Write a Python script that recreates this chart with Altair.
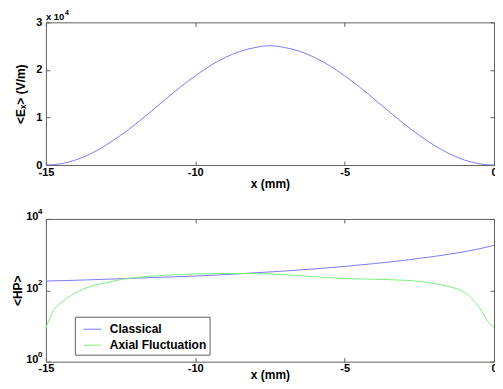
import altair as alt
import pandas as pd

# ---------------- data ----------------
ex_x = [-15, -14.5, -14, -13.5, -13, -12.5, -12, -11.5, -11, -10.5, -10, -9.5, -9, -8.5, -8,
        -7.5, -7, -6.5, -6, -5.5, -5, -4.5, -4, -3.5, -3, -2.5, -2, -1.5, -1, -0.5, 0]
ex_v = [0, 270, 1080, 2390, 4140, 6250, 8600, 11200, 13800, 16400, 18750, 20900, 22600, 23900, 24700,
        25100, 24700, 23900, 22600, 20900, 18750, 16400, 13800, 11200, 8600, 6250, 4140, 2390, 1080, 270, 0]

hp_x_classical = [-15, -14, -13, -12, -11, -10, -9, -8, -7, -6, -5, -4, -3, -2, -1, -0.5, 0]
hp_classical = [182, 191, 204, 219, 234, 251, 275, 309, 347, 398, 468, 562, 692, 891, 1202, 1445, 1820]

hp_x_axial = [-15, -14.85, -14.7, -14.5, -14.3, -14, -13.5, -13, -12.5, -12, -11, -10, -9, -8, -7,
              -6, -5, -4, -3, -2.5, -2, -1.5, -1, -0.7, -0.4, -0.2, 0]
hp_axial = [8.9, 18.2, 30.9, 44.7, 60.3, 85.1, 129, 162, 200, 229, 263, 288, 295, 295, 275,
            240, 214, 204, 191, 178, 155, 126, 89, 54, 25, 13.2, 9.3]

series_names = ["Classical", "Axial Fluctuation"]
series_colors = ["#7b7bff", "#7cf07c"]

x_ticks = [-15, -10, -5, 0]
ex_ticks = [0, 10000, 20000, 30000]
hp_ticks = [1, 100, 10000]
hp_sup = ["0", "2", "4"]
ex_mult = "x 10"
ex_mult_sup = "4"

x_title = "x (mm)"
ex_title = "<Eₓ> (V/m)"
hp_title = "<HP>"

FONT = "Liberation Sans"
FRAME = "#606060"
W, H = 449, 143

# ---------------- tables ----------------
df_e = pd.DataFrame({"x": ex_x, "v": ex_v})
df_hp = pd.concat([
    pd.DataFrame({"x": hp_x_classical, "v": hp_classical, "series": series_names[0], "o": 0}),
    pd.DataFrame({"x": hp_x_axial, "v": hp_axial, "series": series_names[1], "o": 1}),
])
df_mult = pd.DataFrame({"x": [x_ticks[0]], "v": [ex_ticks[-1]], "t": [ex_mult], "s": [ex_mult_sup]})
df_sup = pd.DataFrame({"x": [x_ticks[0]] * 3, "v": hp_ticks, "s": hp_sup})

x_scale = alt.Scale(domain=[-15, 0], nice=False, zero=False)
e_scale = alt.Scale(domain=[0, 30000], nice=False, zero=False)
hp_scale = alt.Scale(type="log", domain=[1, 10000], nice=False)

num_expr = "'' + datum.value"


def x_axis_main(label_pad, title_pad):
    return alt.Axis(orient="bottom", values=x_ticks, labelExpr=num_expr, offset=-4, tickSize=4,
                    domain=False, labelPadding=label_pad, title=x_title, titlePadding=title_pad,
                    labelFlush=False)


def mirror_axis(orient, values):
    return alt.Axis(orient=orient, values=values, offset=-4, tickSize=4, domain=False,
                    labels=False, title=None)


# ---------------- top panel ----------------
top_line = alt.Chart(df_e).mark_line(color=series_colors[0], strokeWidth=1, interpolate="monotone").encode(
    x=alt.X("x:Q", scale=x_scale, axis=x_axis_main(1, 1)),
    y=alt.Y("v:Q", scale=e_scale,
            axis=alt.Axis(orient="left", values=ex_ticks, labelExpr="'' + (datum.value / 10000)",
                          offset=-4, tickSize=4, domain=False, labelPadding=4,
                          title=ex_title, titlePadding=8)),
)
top_mirror = alt.Chart(df_e).mark_line(opacity=0).encode(
    x=alt.X("x:Q", scale=x_scale, axis=mirror_axis("top", x_ticks)),
    y=alt.Y("v:Q", scale=e_scale, axis=mirror_axis("right", ex_ticks)),
)
top_mult = alt.Chart(df_mult).mark_text(align="left", baseline="alphabetic", dy=-2, fontSize=9.5,
                                         fontWeight="bold", font=FONT, color="black").encode(
    x=alt.X("x:Q", scale=x_scale, axis=None), y=alt.Y("v:Q", scale=e_scale, axis=None), text="t:N")
top_mult_sup = alt.Chart(df_mult).mark_text(align="left", baseline="alphabetic", dx=19, dy=-7, fontSize=7,
                                             fontWeight="bold", font=FONT, color="black").encode(
    x=alt.X("x:Q", scale=x_scale, axis=None), y=alt.Y("v:Q", scale=e_scale, axis=None), text="s:N")

top = alt.layer(top_line, top_mirror, top_mult, top_mult_sup).resolve_axis(
    x="independent", y="independent").properties(width=W, height=H)

# ---------------- bottom panel ----------------
bot_lines = alt.Chart(df_hp).mark_line(strokeWidth=1, interpolate="monotone").encode(
    x=alt.X("x:Q", scale=x_scale, axis=x_axis_main(1, -4)),
    y=alt.Y("v:Q", scale=hp_scale,
            axis=alt.Axis(orient="left", values=hp_ticks, labelExpr="'10'", offset=-4, tickSize=4,
                          domain=False, labelPadding=8, labelOffset=-2,
                          title=hp_title, titlePadding=1)),
    color=alt.Color("series:N", scale=alt.Scale(domain=series_names, range=series_colors),
                    legend=alt.Legend(orient="none", legendX=29, legendY=98, title=None,
                                      symbolType="stroke", symbolSize=324, symbolStrokeWidth=1,
                                      symbolOffset=5,
                                      labelFont=FONT, labelFontSize=12, labelFontWeight="bold",
                                      labelColor="black", labelOffset=8,
                                      strokeColor=FRAME, fillColor="white", padding=3,
                                      rowPadding=0, labelLimit=300)),
    order="o:Q",
)
bot_mirror = alt.Chart(df_hp).mark_line(opacity=0).encode(
    x=alt.X("x:Q", scale=x_scale, axis=mirror_axis("top", x_ticks)),
    y=alt.Y("v:Q", scale=hp_scale, axis=mirror_axis("right", hp_ticks)),
    detail="series:N",
)
bot_sup = alt.Chart(df_sup).mark_text(align="left", baseline="middle", dx=-8, dy=-7, fontSize=8,
                                       fontWeight="bold", font=FONT, color="black").encode(
    x=alt.X("x:Q", scale=x_scale, axis=None), y=alt.Y("v:Q", scale=hp_scale, axis=None), text="s:N")

bottom = alt.layer(bot_lines, bot_mirror, bot_sup).resolve_axis(
    x="independent", y="independent").properties(width=W, height=H)

chart = alt.vconcat(top, bottom, spacing=54, bounds="flush").resolve_legend(
    color="independent"
).properties(
    padding={"left": 3, "top": 0, "right": -3, "bottom": 0}
).configure_view(stroke=FRAME, strokeWidth=1).configure_axis(
    labelFont=FONT, titleFont=FONT, labelFontSize=11, labelFontWeight="bold",
    titleFontSize=12, titleFontWeight="bold", labelColor="black", titleColor="black",
    tickColor=FRAME, grid=False,
)

chart.save("out.html", embed_options={"renderer": "svg", "actions": False})
